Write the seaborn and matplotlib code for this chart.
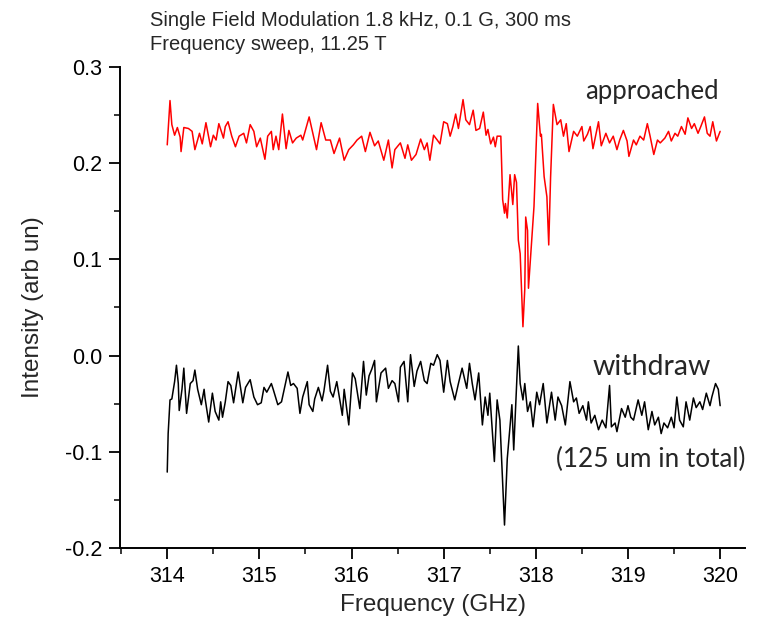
import matplotlib
matplotlib.use("Agg")
import matplotlib.pyplot as plt
import seaborn as sns
from matplotlib.ticker import MultipleLocator, FormatStrFormatter

# approached trace
freq_app = [314.00, 314.03, 314.05, 314.08, 314.11, 314.14, 314.15, 314.18, 314.23, 314.27,
            314.30, 314.35, 314.38, 314.42, 314.47, 314.50, 314.53, 314.56, 314.61, 314.63,
            314.66, 314.70, 314.74, 314.78, 314.83, 314.86, 314.90, 314.94, 314.97, 315.01,
            315.06, 315.09, 315.13, 315.15, 315.18, 315.21, 315.25, 315.29, 315.32, 315.36,
            315.40, 315.45, 315.47, 315.54, 315.62, 315.67, 315.72, 315.77, 315.81, 315.87,
            315.92, 315.97, 316.02, 316.06, 316.11, 316.15, 316.20, 316.25, 316.29, 316.35,
            316.40, 316.44, 316.47, 316.53, 316.58, 316.61, 316.65, 316.70, 316.75, 316.79,
            316.82, 316.85, 316.89, 316.93, 316.96, 317.00, 317.04, 317.07, 317.10, 317.13,
            317.16, 317.21, 317.24, 317.28, 317.32, 317.35, 317.39, 317.43, 317.46, 317.48,
            317.51, 317.54, 317.56, 317.58, 317.62, 317.64, 317.66, 317.67, 317.69, 317.72,
            317.75, 317.77, 317.79, 317.81, 317.83, 317.86, 317.88, 317.89, 317.91, 317.92,
            317.96, 317.98, 318.02, 318.05, 318.06, 318.09, 318.12, 318.14, 318.16, 318.19,
            318.23, 318.27, 318.30, 318.33, 318.36, 318.41, 318.45, 318.50, 318.52, 318.56,
            318.59, 318.62, 318.68, 318.71, 318.76, 318.80, 318.84, 318.88, 318.91, 318.95,
            318.99, 319.01, 319.06, 319.09, 319.13, 319.17, 319.21, 319.24, 319.28, 319.32,
            319.35, 319.40, 319.44, 319.47, 319.51, 319.54, 319.58, 319.62, 319.65, 319.69,
            319.72, 319.76, 319.79, 319.83, 319.86, 319.89, 319.92, 319.96, 320.00]
int_app = [0.219, 0.265, 0.240, 0.229, 0.237, 0.227, 0.212, 0.237, 0.236, 0.233,
           0.214, 0.231, 0.220, 0.242, 0.217, 0.229, 0.224, 0.241, 0.226, 0.238,
           0.243, 0.228, 0.217, 0.228, 0.231, 0.221, 0.240, 0.233, 0.217, 0.226,
           0.204, 0.228, 0.233, 0.214, 0.228, 0.214, 0.251, 0.215, 0.234, 0.221,
           0.226, 0.229, 0.224, 0.248, 0.214, 0.242, 0.224, 0.224, 0.210, 0.226,
           0.203, 0.214, 0.219, 0.224, 0.228, 0.212, 0.232, 0.218, 0.223, 0.203,
           0.224, 0.195, 0.214, 0.221, 0.205, 0.219, 0.203, 0.209, 0.225, 0.214,
           0.221, 0.203, 0.229, 0.224, 0.220, 0.243, 0.241, 0.228, 0.238, 0.251,
           0.236, 0.266, 0.245, 0.240, 0.255, 0.234, 0.236, 0.253, 0.229, 0.235,
           0.220, 0.227, 0.217, 0.228, 0.228, 0.162, 0.148, 0.158, 0.143, 0.188,
           0.157, 0.188, 0.180, 0.120, 0.106, 0.030, 0.069, 0.144, 0.130, 0.070,
           0.127, 0.155, 0.262, 0.228, 0.230, 0.186, 0.165, 0.115, 0.185, 0.261,
           0.240, 0.245, 0.228, 0.241, 0.212, 0.233, 0.228, 0.238, 0.223, 0.230,
           0.238, 0.215, 0.243, 0.218, 0.231, 0.221, 0.228, 0.214, 0.224, 0.234,
           0.223, 0.207, 0.224, 0.219, 0.228, 0.224, 0.241, 0.228, 0.209, 0.224,
           0.221, 0.226, 0.233, 0.223, 0.231, 0.228, 0.238, 0.230, 0.247, 0.236,
           0.241, 0.231, 0.238, 0.248, 0.231, 0.228, 0.243, 0.223, 0.233]

# withdraw trace
freq_wd = [314.00, 314.01, 314.03, 314.05, 314.08, 314.10, 314.12, 314.13, 314.16, 314.18,
           314.21, 314.25, 314.28, 314.30, 314.33, 314.37, 314.40, 314.41, 314.45, 314.49,
           314.52, 314.56, 314.58, 314.60, 314.63, 314.66, 314.69, 314.72, 314.77, 314.82,
           314.85, 314.90, 314.94, 314.98, 315.02, 315.05, 315.08, 315.13, 315.15, 315.20,
           315.24, 315.31, 315.34, 315.37, 315.41, 315.44, 315.47, 315.52, 315.54, 315.58,
           315.60, 315.64, 315.68, 315.70, 315.74, 315.77, 315.80, 315.84, 315.90, 315.92,
           315.97, 316.01, 316.04, 316.09, 316.13, 316.16, 316.19, 316.22, 316.25, 316.27,
           316.32, 316.37, 316.40, 316.44, 316.47, 316.51, 316.53, 316.57, 316.61, 316.64,
           316.68, 316.71, 316.75, 316.79, 316.82, 316.86, 316.89, 316.93, 316.96, 317.00,
           317.04, 317.07, 317.12, 317.16, 317.20, 317.25, 317.28, 317.31, 317.34, 317.38,
           317.42, 317.45, 317.48, 317.50, 317.55, 317.58, 317.61, 317.66, 317.69, 317.74,
           317.76, 317.81, 317.83, 317.86, 317.88, 317.91, 317.94, 317.97, 318.01, 318.04,
           318.08, 318.12, 318.17, 318.21, 318.24, 318.28, 318.32, 318.37, 318.41, 318.44,
           318.47, 318.51, 318.55, 318.57, 318.60, 318.64, 318.68, 318.72, 318.76, 318.80,
           318.82, 318.86, 318.88, 318.93, 318.97, 319.00, 319.03, 319.06, 319.11, 319.15,
           319.18, 319.22, 319.26, 319.29, 319.33, 319.36, 319.39, 319.43, 319.47, 319.50,
           319.53, 319.56, 319.60, 319.63, 319.67, 319.71, 319.74, 319.78, 319.81, 319.85,
           319.89, 319.91, 319.95, 319.98, 320.00]
int_wd = [-0.121, -0.081, -0.046, -0.045, -0.027, -0.010, -0.029, -0.057, -0.035, -0.013,
          -0.060, -0.029, -0.026, -0.015, -0.035, -0.051, -0.035, -0.044, -0.069, -0.039,
          -0.058, -0.067, -0.048, -0.064, -0.048, -0.027, -0.031, -0.049, -0.017, -0.049,
          -0.033, -0.025, -0.043, -0.051, -0.049, -0.033, -0.038, -0.029, -0.035, -0.051,
          -0.048, -0.017, -0.031, -0.029, -0.034, -0.060, -0.043, -0.027, -0.051, -0.058,
          -0.045, -0.033, -0.047, -0.037, -0.010, -0.037, -0.043, -0.027, -0.062, -0.035,
          -0.072, -0.018, -0.024, -0.055, -0.006, -0.041, -0.021, -0.014, -0.005, -0.048,
          -0.018, -0.013, -0.034, -0.026, -0.029, -0.048, -0.012, -0.006, -0.048, 0.001,
          -0.032, -0.016, -0.006, -0.026, -0.029, -0.008, -0.010, 0.001, -0.005, -0.038,
          -0.005, -0.027, -0.046, -0.029, -0.013, -0.034, -0.008, -0.029, -0.046, -0.018,
          -0.072, -0.043, -0.062, -0.039, -0.110, -0.046, -0.067, -0.176, -0.107, -0.051,
          -0.098, 0.010, -0.029, -0.046, -0.029, -0.058, -0.048, -0.074, -0.038, -0.051,
          -0.029, -0.070, -0.038, -0.067, -0.043, -0.052, -0.072, -0.027, -0.048, -0.044,
          -0.060, -0.052, -0.067, -0.048, -0.070, -0.062, -0.077, -0.067, -0.075, -0.031,
          -0.074, -0.070, -0.079, -0.055, -0.064, -0.052, -0.064, -0.067, -0.046, -0.062,
          -0.048, -0.077, -0.058, -0.072, -0.064, -0.081, -0.070, -0.075, -0.064, -0.075,
          -0.043, -0.067, -0.074, -0.048, -0.067, -0.044, -0.054, -0.048, -0.056, -0.039,
          -0.052, -0.043, -0.029, -0.035, -0.052]

title_lines = ["Single Field Modulation 1.8 kHz, 0.1 G, 300 ms", "Frequency sweep, 11.25 T"]

sns.set_style("ticks")
plt.rcParams['font.family'] = ['Liberation Sans', 'DejaVu Sans']
plt.rcParams['axes.unicode_minus'] = False

fig = plt.figure(figsize=(7.61, 6.25), dpi=100)
ax = fig.add_axes([0.158, 0.123, 0.821, 0.770])

sns.lineplot(x=freq_app, y=int_app, color='red', lw=1.1, estimator=None, sort=False, ax=ax)
sns.lineplot(x=freq_wd, y=int_wd, color='black', lw=1.1, estimator=None, sort=False, ax=ax)

ax.set_xlim(313.49, 320.27)
ax.set_ylim(-0.2, 0.3)
ax.xaxis.set_major_locator(MultipleLocator(1))
ax.xaxis.set_minor_locator(MultipleLocator(0.5))
ax.yaxis.set_major_locator(MultipleLocator(0.1))
ax.yaxis.set_minor_locator(MultipleLocator(0.05))
ax.yaxis.set_major_formatter(FormatStrFormatter('%.1f'))
ax.tick_params(which='major', length=8, width=1.3, labelsize=15.5, colors='black', pad=5)
ax.tick_params(which='minor', length=4.5, width=1.3)
for s in ['left', 'bottom']:
    ax.spines[s].set_linewidth(1.4)
    ax.spines[s].set_color('black')
sns.despine(ax=ax)

ax.set_xlabel('Frequency (GHz)', fontsize=17.5, labelpad=5)
ax.set_ylabel('Intensity (arb un)', fontsize=17.5, labelpad=15)

fig.text(150/761, 1 - 20/625, title_lines[0], fontsize=14.5, va='center')
fig.text(150/761, 1 - 44/625, title_lines[1], fontsize=14.5, va='center')

ax.text(318.53, 0.274, 'approached', fontsize=18.5, family='Lato', va='center')
ax.text(318.62, -0.012, 'withdraw', fontsize=20.5, family='Lato', va='center')
ax.text(318.22, -0.108, '(125 um in total)', fontsize=18.8, family='Lato', va='center')

fig.savefig('out.png', dpi=100)
